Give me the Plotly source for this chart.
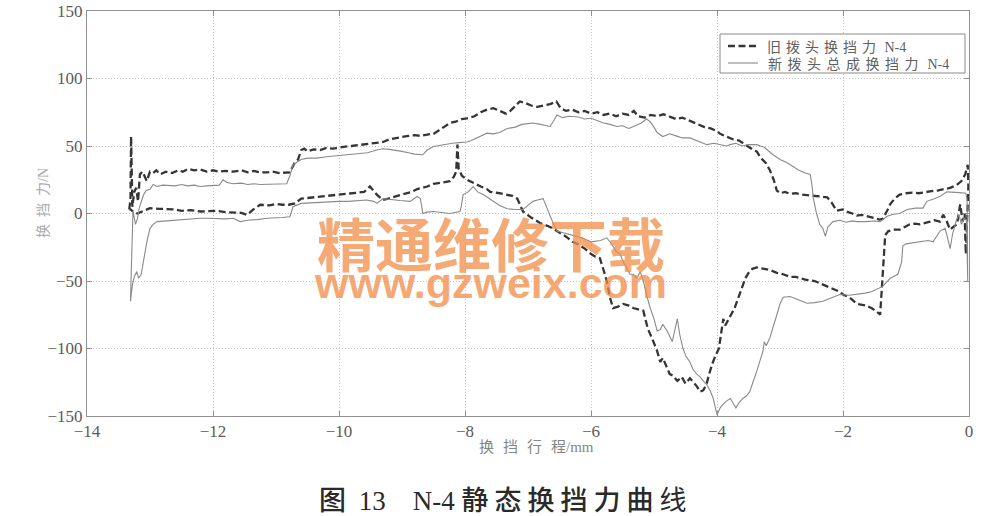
import plotly.graph_objects as go

# ---------------- data ----------------
# 旧拨头换挡力 N-4 : forward branch (x increasing)
old_up_x = [-13.33, -13.31, -13.30, -13.29, -13.28, -13.25, -13.22, -13.19, -13.16, -13.12, -13.05, -13.0,
            -12.95, -12.9, -12.84, -12.75, -12.65, -12.55, -12.48, -12.4, -12.3, -12.2, -12.1, -12.0, -11.9,
            -11.8, -11.68, -11.55, -11.45, -11.35, -11.25, -11.14, -11.05, -10.95, -10.85, -10.78, -10.7,
            -10.65, -10.6, -10.55, -10.5, -10.4, -10.3, -10.2, -10.1, -10.0, -9.9, -9.8, -9.7, -9.6, -9.5,
            -9.4, -9.3, -9.2, -9.1, -9.0, -8.9, -8.8, -8.7, -8.6, -8.5, -8.4, -8.3, -8.24, -8.15, -8.05,
            -7.97, -7.85, -7.75, -7.65, -7.55, -7.45, -7.35, -7.28, -7.2, -7.13, -7.05, -6.95, -6.85, -6.75,
            -6.65, -6.55, -6.48, -6.4, -6.3, -6.2, -6.1, -6.0, -5.9, -5.8, -5.7, -5.6, -5.5, -5.4, -5.32,
            -5.25, -5.15, -5.05, -4.95, -4.85, -4.75, -4.65, -4.55, -4.45, -4.35, -4.27, -4.2, -4.1, -4.0,
            -3.95, -3.85, -3.75, -3.65, -3.59, -3.5, -3.42, -3.37, -3.3, -3.22, -3.16, -3.1, -3.05, -3.0,
            -2.92, -2.84, -2.75, -2.65, -2.55, -2.45, -2.35, -2.25, -2.18, -2.1, -2.0, -1.92, -1.85, -1.78,
            -1.7, -1.6, -1.5, -1.42, -1.37, -1.3, -1.25, -1.18, -1.1, -1.0, -0.9, -0.8, -0.7, -0.6, -0.5,
            -0.4, -0.3, -0.2, -0.12, -0.06, -0.02]
old_up_y = [3, 10, 57, 30, 5, 16, 19, 9, 29, 31, 24, 31,
            30, 32, 29, 31, 30, 32, 31, 33, 32, 32.5, 31, 32, 31,
            31.5, 31, 32, 30.5, 31.5, 30.5, 30.5, 31, 30, 30.5, 30.5, 38,
            40, 47, 48, 46, 47.5, 47, 48.5, 48, 49, 49.5, 50, 50.5, 51, 52,
            52.5, 53, 55, 56, 57, 57.5, 58, 57.5, 58.5, 59, 62, 65, 67, 68, 70,
            70.5, 72, 75, 77, 78, 76, 74, 76, 80, 83, 82, 80, 79, 80,
            81, 83, 78, 76, 77, 75, 76, 74, 75, 73, 74, 72, 74, 73, 76,
            72, 71, 73, 72, 73.5, 72, 70, 71, 69, 67, 66, 64, 63, 61,
            59, 57, 55, 54, 52, 49, 47, 46, 41, 37, 32, 25, 17, 15,
            16, 14.5, 15, 14, 13.5, 13, 12.5, 12, 8, 2, 3, 1, 0, -1.5,
            -1, -2.5, -3.5, -4.5, -4, 2, 7, 11, 14, 15, 15.5, 15, 16, 16.5, 17,
            18, 19, 21, 24, 29, 36]

# 旧拨头换挡力 N-4 : return branch (x decreasing)
old_down_x = [-0.01, -0.03, -0.05, -0.07, -0.1, -0.14, -0.19, -0.25, -0.3, -0.36, -0.41, -0.46, -0.55,
              -0.62, -0.7, -0.78, -0.86, -0.94, -1.02, -1.1, -1.2, -1.28, -1.33, -1.36, -1.39, -1.41,
              -1.48, -1.55, -1.65, -1.78, -1.9, -2.0, -2.05, -2.15, -2.25, -2.32, -2.45, -2.6, -2.75,
              -2.84, -2.95, -3.05, -3.15, -3.25, -3.37, -3.44, -3.5, -3.55, -3.59, -3.65, -3.72, -3.8,
              -3.87, -3.9, -3.93, -3.97, -4.03, -4.08, -4.13, -4.17, -4.22, -4.27, -4.32, -4.38, -4.43,
              -4.5, -4.56, -4.63, -4.7, -4.75, -4.8, -4.86, -4.9, -4.95, -5.0, -5.06, -5.1, -5.17, -5.25,
              -5.33, -5.41, -5.49, -5.57, -5.65, -5.7, -5.75, -5.8, -5.86, -5.93, -6.0, -6.1, -6.2, -6.29,
              -6.4, -6.54, -6.65, -6.81, -6.95, -7.08, -7.17, -7.25, -7.33, -7.45, -7.6, -7.65, -7.75,
              -7.85, -7.97, -8.05, -8.1, -8.12, -8.14, -8.18, -8.24, -8.35, -8.5, -8.6, -8.76, -8.85,
              -8.92, -9.03, -9.15, -9.3, -9.4, -9.45, -9.51, -9.6, -9.7, -9.83, -9.95, -10.1, -10.25,
              -10.4, -10.6, -10.7, -10.8, -10.9, -11.0, -11.1, -11.25, -11.36, -11.46, -11.55, -11.68,
              -11.8, -11.95, -12.1, -12.2, -12.35, -12.5, -12.6, -12.73, -12.85, -13.0, -13.1, -13.2,
              -13.27, -13.31, -13.33]
old_down_y = [20, -5, -30, 0, -6, 6.7, -8, -10, -12, -5, -1, -6, -5,
              -6, -7, -8, -7.5, -8, -10, -12, -12, -13, -16, -40, -60, -75,
              -72, -70, -68, -67, -62, -60, -58, -56, -54, -53, -50, -49, -47,
              -47, -45, -44, -42, -41, -40, -41, -44, -48, -53, -62, -70, -77,
              -83, -78, -88, -100, -106, -112, -120, -127, -131, -132, -128, -125, -122,
              -126, -121, -124, -120, -119, -113, -107, -110, -102, -96, -90, -85, -72, -71,
              -70, -68, -67, -69, -70, -62, -50, -42, -33, -32, -30, -26, -23, -21,
              -17, -13, -10, -7, -3, 1.5, 11, 13, 14, 15, 16, 18, 20,
              22, 25, 28, 33, 51, 31, 27, 24, 23, 22, 20, 18, 16,
              15, 14, 12, 10, 14, 17, 20, 16, 15.5, 15, 14.5, 14, 13,
              12, 11, 7.5, 6.5, 6.5, 7, 6, 6.5, 3, -1, 0.5, 0.7,
              1, 2, 1.5, 1.5, 2.5, 2, 3, 3, 3.5, 4, 2, 0,
              1.5, 3, 3]

# 新拨头总成换挡力 N-4 : forward branch (x increasing)
new_up_x = [-13.31, -13.3, -13.29, -13.28, -13.27, -13.25, -13.23, -13.2, -13.17, -13.13, -13.1, -13.06,
            -13.0, -12.95, -12.89, -12.8, -12.73, -12.6, -12.5, -12.4, -12.3, -12.2, -12.1, -12.0, -11.9,
            -11.84, -11.78, -11.68, -11.55, -11.45, -11.35, -11.25, -11.14, -11.0, -10.9, -10.83, -10.78,
            -10.73, -10.67, -10.6, -10.5, -10.35, -10.2, -10.0, -9.83, -9.7, -9.55, -9.4, -9.3, -9.2, -9.1,
            -9.0, -8.9, -8.8, -8.67, -8.6, -8.5, -8.4, -8.3, -8.2, -8.1, -7.97, -7.9, -7.8, -7.7, -7.65,
            -7.55, -7.45, -7.33, -7.2, -7.1, -6.92, -6.8, -6.65, -6.6, -6.54, -6.45, -6.35, -6.2, -6.1,
            -6.0, -5.9, -5.8, -5.7, -5.59, -5.5, -5.4, -5.3, -5.2, -5.12, -5.06, -5.0, -4.95, -4.86, -4.75,
            -4.65, -4.55, -4.43, -4.33, -4.25, -4.16, -4.05, -3.95, -3.85, -3.79, -3.7, -3.6, -3.5, -3.37,
            -3.25, -3.11, -3.0, -2.9, -2.84, -2.7, -2.6, -2.52, -2.49, -2.47, -2.42, -2.37, -2.32, -2.28,
            -2.24, -2.16, -2.05, -1.95, -1.85, -1.78, -1.65, -1.5, -1.41, -1.3, -1.2, -1.1, -0.98, -0.85,
            -0.73, -0.67, -0.55, -0.45, -0.35, -0.25, -0.15, -0.05, -0.03]
new_up_y = [-65, -50, -30, -8, 2, -3, -8, -4, 4, 10, 14, 17,
            18, 21.5, 20, 21, 21, 20.5, 21.5, 20.5, 21, 20, 20.5, 21, 21,
            25, 23, 22, 22.5, 21.5, 22, 21.5, 21.5, 22, 22, 22, 28,
            36, 38, 40, 41, 41, 42, 43, 43.5, 44, 45, 47, 48, 47.5, 47,
            46, 45, 44, 43.5, 47, 49.6, 50.5, 51, 52, 52.5, 53, 54, 56, 58, 59.5,
            59, 60, 63, 64, 66, 67, 66, 64.5, 68, 73, 71, 72, 71.5, 70,
            70.6, 69, 67, 66, 64.5, 65, 63, 65, 67, 70, 68, 64, 60, 57, 59,
            57.5, 56, 56, 54, 53, 51, 52, 51, 50, 51, 52, 50, 51, 51,
            49, 43.5, 40, 38, 36, 32, 30, 29, 20, 11, 0, -8, -11, -17,
            -10, -6, -5, -6.5, -5.5, -6, -6, -5.5, -6, -2, -0.5, 0, 3, 4,
            4, 9, 11, 13, 16, 16, 15.5, 15, 10]

# 新拨头总成换挡力 N-4 : return branch (x decreasing)
new_down_x = [-0.02, -0.04, -0.08, -0.12, -0.16, -0.2, -0.26, -0.3, -0.34, -0.38, -0.46, -0.52, -0.57,
              -0.65, -0.78, -0.9, -1.0, -1.05, -1.07, -1.13, -1.2, -1.25, -1.37, -1.45, -1.55, -1.65,
              -1.78, -1.9, -2.05, -2.15, -2.25, -2.32, -2.45, -2.57, -2.7, -2.84, -2.95, -3.0, -3.05,
              -3.1, -3.16, -3.22, -3.25, -3.27, -3.32, -3.37, -3.43, -3.48, -3.53, -3.59, -3.65, -3.7,
              -3.75, -3.79, -3.85, -3.9, -3.95, -4.0, -4.03, -4.06, -4.1, -4.16, -4.22, -4.27, -4.32,
              -4.38, -4.43, -4.49, -4.54, -4.59, -4.63, -4.67, -4.71, -4.78, -4.86, -4.9, -4.95, -5.0,
              -5.06, -5.12, -5.17, -5.22, -5.27, -5.33, -5.38, -5.44, -5.49, -5.54, -5.6, -5.68, -5.75,
              -5.85, -6.0, -6.15, -6.3, -6.45, -6.54, -6.62, -6.7, -6.76, -6.85, -6.92, -7.0, -7.08,
              -7.2, -7.33, -7.45, -7.6, -7.71, -7.8, -7.87, -7.95, -8.03, -8.06, -8.08, -8.24, -8.4,
              -8.5, -8.6, -8.67, -8.69, -8.71, -8.76, -8.87, -9.03, -9.15, -9.3, -9.4, -9.45, -9.56,
              -9.7, -9.85, -10.0, -10.2, -10.4, -10.6, -10.73, -10.78, -10.9, -11.0, -11.14, -11.3,
              -11.45, -11.57, -11.68, -11.8, -11.95, -12.1, -12.2, -12.35, -12.5, -12.6, -12.73, -12.89,
              -12.95, -13.0, -13.05, -13.1, -13.14, -13.18, -13.21, -13.25, -13.28, -13.31]
new_down_y = [-50, -5, -3.5, -8, -1, -5, -15, -26, -18, -11, -13, -17, -21,
              -20, -21, -22, -22.5, -24, -36, -45, -47, -48, -54, -56, -58, -59,
              -60, -60.5, -60, -62, -64, -65, -66, -66.5, -64, -61.5, -62, -67, -75,
              -83, -92, -98, -95, -102, -110, -117, -125, -132, -135, -137, -140, -144,
              -140, -137, -139, -141, -144, -149, -143, -137, -132, -127, -124, -121, -119,
              -115.6, -110, -106, -100, -90, -78, -88, -95, -88, -82, -86, -87, -78,
              -70, -60, -50, -43, -48, -45, -45, -40, -35.6, -30, -28, -22, -18,
              -20, -21, -18, -16, -14, -13, -5, 5, 11, 10, 9, 6, 3,
              3, 3.5, 6, 11, 14, 16, 20, 16, 14, 5, 1.5, 0, 1,
              1.5, 1, 0, 6, 11, 12.6, 9, 9.6, 10, 11, 7.5, 9, 10,
              9.5, 9, 9, 8.5, 8, 7.5, 5, -2.4, -3, -3, -3.5, -4.5,
              -5, -6, -3.5, -4, -3.5, -3.5, -3.5, -4, -4.5, -5, -5.5, -6,
              -8, -11, -21, -33, -45, -48, -43, -47, -53, -65]

series_names = ["旧拨头换挡力 N-4", "新拨头总成换挡力 N-4"]
x_tick_vals = [-14, -12, -10, -8, -6, -4, -2, 0]
y_tick_vals = [-150, -100, -50, 0, 50, 100, 150]
x_title_cn, x_title_unit = "换挡行程", "/mm"
y_title_cn, y_title_unit = "换挡力", "/N"
caption_fig, caption_num, caption_id, caption_text = "图", "13", "N-4", "静态换挡力曲线"
watermark_cn = "精通维修下载"
watermark_url = "www.gzweix.com"

# ---------------- layout helpers (reference-pixel -> paper) ----------------
PLOT_L, PLOT_R, PLOT_T, PLOT_B = 87, 969, 11, 416   # plot area in the reference picture
OFF = 0                                              # page body margin removed below


def px(x):
    return (x - PLOT_L) / (PLOT_R - PLOT_L)


def py(y):
    return (PLOT_B - y) / (PLOT_B - PLOT_T)


def spaced(txt, sp, extra=""):
    # letter-spacing on all but the last glyph, so no trailing gap
    return '<span style="letter-spacing:%gpx%s">%s</span>%s' % (sp, extra, txt[:-1], txt[-1])


def spaced_span(txt, sp, extra=""):
    return '<span style="letter-spacing:%gpx%s">%s</span>' % (sp, extra, txt)


serif = "Liberation Serif, Noto Sans CJK SC, serif"
DASHED_COLOR, SOLID_COLOR = "#353535", "#8a8a8a"
DASH = "7px,3.5px"

fig = go.Figure()
fig.add_trace(go.Scatter(
    x=old_up_x + old_down_x, y=old_up_y + old_down_y, mode="lines", name=series_names[0],
    line=dict(color=DASHED_COLOR, width=2.3, dash=DASH)))
fig.add_trace(go.Scatter(
    x=new_up_x + new_down_x, y=new_up_y + new_down_y, mode="lines", name=series_names[1],
    line=dict(color=SOLID_COLOR, width=1.1)))

axis_common = dict(
    showline=True, linecolor="#909090", linewidth=1, mirror="ticks",
    ticks="inside", ticklen=5, tickcolor="#909090",
    showgrid=True, gridcolor="#c4c4c4", griddash="1px,2px", gridwidth=1,
    zeroline=False, automargin=False, ticklabeloverflow="allow",
    tickfont=dict(family=serif, size=17, color="#5a5a5a"),
)

W, H = 984, 516
fig.update_layout(
    width=W, height=H,
    margin=dict(l=PLOT_L - OFF, r=W - PLOT_R + OFF, t=PLOT_T - OFF, b=H - PLOT_B + OFF),
    paper_bgcolor="white", plot_bgcolor="white",
    xaxis=dict(range=[-14, 0], tickvals=x_tick_vals, **axis_common),
    yaxis=dict(range=[-150, 150], tickvals=y_tick_vals, **axis_common),
    showlegend=False,
)

# ---- legend box drawn by hand (matches the compact boxed legend) ----
fig.add_shape(type="rect", xref="paper", yref="paper",
              x0=px(720), x1=px(965), y0=py(73), y1=py(34),
              line=dict(color="#8a8a8a", width=1), fillcolor="white", layer="above")
fig.add_shape(type="line", xref="paper", yref="paper",
              x0=px(728), x1=px(758), y0=py(46), y1=py(46),
              line=dict(color=DASHED_COLOR, width=2.3, dash=DASH), layer="above")
fig.add_shape(type="line", xref="paper", yref="paper",
              x0=px(728), x1=px(758), y0=py(63), y1=py(63),
              line=dict(color=SOLID_COLOR, width=1.1), layer="above")
name0_cn, name0_id = series_names[0].split(" ")
name1_cn, name1_id = series_names[1].split(" ")
fig.add_annotation(xref="paper", yref="paper", x=px(765), y=py(47), xanchor="left", yanchor="middle",
                   text=spaced_span(name0_cn, 5) + " " + name0_id, showarrow=False,
                   font=dict(family=serif, size=14, color="#606060"))
fig.add_annotation(xref="paper", yref="paper", x=px(766), y=py(64), xanchor="left", yanchor="middle",
                   text=spaced_span(name1_cn, 5.5) + " " + name1_id, showarrow=False,
                   font=dict(family=serif, size=14, color="#606060"))

# ---- axis titles ----
fig.add_annotation(xref="paper", yref="paper", x=px(536), y=py(447), yanchor="middle",
                   text=spaced(x_title_cn, 9) + x_title_unit, showarrow=False,
                   font=dict(family=serif, size=15, color="#858585"))
fig.add_annotation(xref="paper", yref="paper", x=px(33), y=py(203), textangle=-90,
                   text=spaced(y_title_cn, 7) + y_title_unit, showarrow=False,
                   font=dict(family=serif, size=14, color="#a8a8a8"))

# ---- caption ----
caption_html = (spaced_span(caption_fig, 6, ";font-weight:500") + " " + caption_num + "\u2003"
                + caption_id + " " + spaced(caption_text, 6, ";font-weight:500"))
fig.add_annotation(xref="paper", yref="paper", x=px(503), y=py(501), yanchor="middle",
                   text=caption_html, showarrow=False,
                   font=dict(family=serif, size=27, color="#2a2a2a"))

# ---- watermark ----
wm_color = "rgba(242,140,70,0.75)"
fig.add_annotation(xref="paper", yref="paper", x=px(491), y=py(242), yanchor="middle",
                   text="<b>" + watermark_cn + "</b>", showarrow=False,
                   font=dict(family="Noto Sans CJK SC", size=58, color=wm_color))
fig.add_annotation(xref="paper", yref="paper", x=px(490), y=py(283), yanchor="middle",
                   text="<b>" + watermark_url + "</b>", showarrow=False,
                   font=dict(family="Liberation Sans, Arial", size=43, color=wm_color))

fig.write_html("out.html", config={"displayModeBar": False},
               post_script="document.body.style.margin='0px';")
